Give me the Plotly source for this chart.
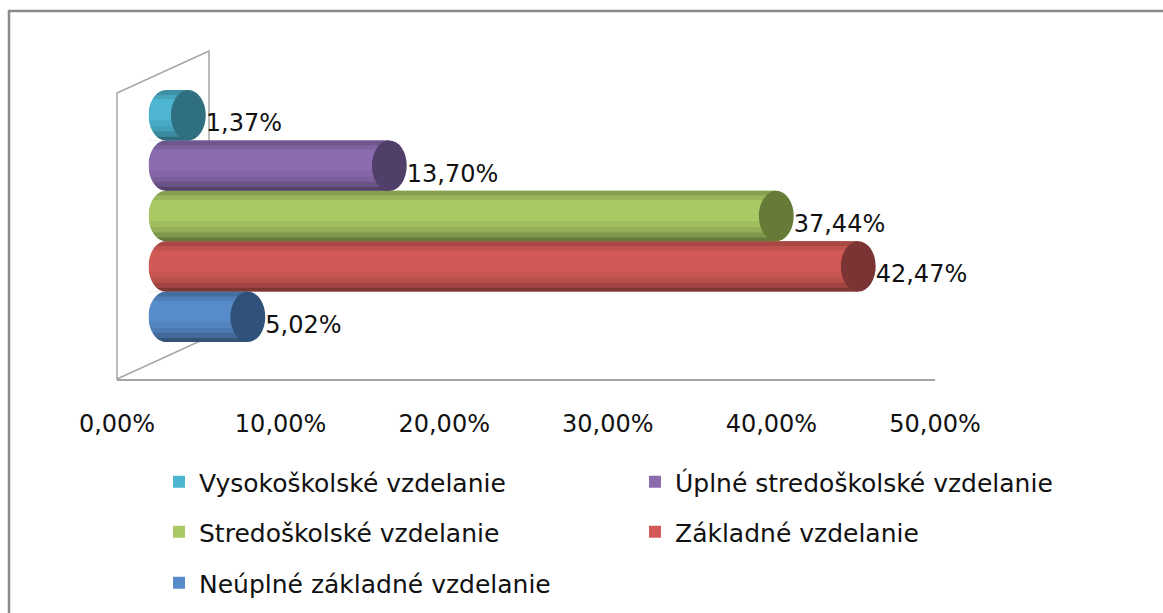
import plotly.graph_objects as go

# ---- data ----
categories = ["Vysokoškolské vzdelanie", "Úplné stredoškolské vzdelanie",
              "Stredoškolské vzdelanie", "Základné vzdelanie",
              "Neúplné základné vzdelanie"]
values = [1.37, 13.70, 37.44, 42.47, 5.02]
row_pos = [4, 3, 2, 1, 0]          # top to bottom
body_colors = ["#4DB5D0", "#8B6CAF", "#A8C964", "#D25A56", "#588BCA"]
cap_colors = ["#306F7F", "#503F69", "#667B37", "#7B3433", "#30527A"]
legend_ids = ["legend", "legend", "legend2", "legend2", "legend3"]
tick_vals = [0, 10, 20, 30, 40, 50]
tick_labels = ["0,00%", "10,00%", "20,00%", "30,00%", "40,00%", "50,00%"]

W, H = 1163, 613
CAP_R = 1.07   # half width of cylinder cap, in axis units
FONT = "DejaVu Sans"
PX_PER_UNIT = 16.3
X0_PX = 166            # pixel of value 0 on the bar axis
XMIN = -2.0
K = 0.5523             # bezier circle constant

# shading bands (lower, upper edge within a bar of height 1, darkening factor)
bands = [(0.40, 0.50, 0.80), (0.32, 0.40, 0.91),
         (-0.22, -0.10, 0.95), (-0.32, -0.22, 0.88),
         (-0.42, -0.32, 0.76), (-0.50, -0.42, 0.60)]


def px_x(p):
    return p / W


def px_y(p):
    return 1 - p / H


def shade(hex_color, f):
    h = hex_color.lstrip("#")
    r, g, b = (int(h[i:i + 2], 16) for i in (0, 2, 4))
    return "#%02x%02x%02x" % (int(r * f), int(g * f), int(b * f))


fig = go.Figure()

# cylinder bodies: start at the back of the rounded left end, end at the value
for cat, v, yp, bc, lg in zip(categories, values, row_pos, body_colors, legend_ids):
    fig.add_trace(go.Bar(
        x=[v + CAP_R], y=[yp], base=-CAP_R, orientation="h", width=1.0,
        marker=dict(color=bc, line=dict(width=0)),
        name=cat, legend=lg, hoverinfo="skip",
    ))

# cylinder shading bands
for lo, hi, f in bands:
    fig.add_trace(go.Bar(
        x=[v + CAP_R for v in values], y=[p + (lo + hi) / 2 for p in row_pos],
        base=-CAP_R, orientation="h", width=hi - lo,
        marker=dict(color=[shade(c, f) for c in body_colors], line=dict(width=0)),
        showlegend=False, hoverinfo="skip",
    ))

# data labels
label_text = [f"{v:.2f}".replace(".", ",") + "%" for v in values]
fig.add_trace(go.Scatter(
    x=[v + CAP_R for v in values], y=[p - 0.2 for p in row_pos],
    mode="text", text=label_text, textposition="middle right",
    textfont=dict(family=FONT, size=24, color="#111111"),
    showlegend=False, hoverinfo="skip", cliponaxis=False,
))

# invisible trace to carry the labelled (front) value axis
fig.add_trace(go.Scatter(x=[tick_vals[0], tick_vals[-1]], y=[None, None],
                         xaxis="x2", yaxis="y", mode="markers",
                         showlegend=False, hoverinfo="skip"))

shapes = []
# outer chart border
shapes.append(dict(type="rect", xref="paper", yref="paper",
                   x0=px_x(9), x1=px_x(W + 20), y0=px_y(H + 20), y1=px_y(11),
                   line=dict(color="#8a8a8a", width=2.5), layer="below"))
# back wall of 3D chart
shapes.append(dict(type="path", xref="paper", yref="paper",
                   path=f"M{px_x(117)},{px_y(379)} L{px_x(117)},{px_y(93)} "
                        f"L{px_x(209)},{px_y(51)} L{px_x(209)},{px_y(337)} Z",
                   line=dict(color="#a6a6a6", width=1.5), layer="below"))
# round off the left ends of the cylinders (white corner masks)
r = CAP_R
for yp in row_pos:
    top, bot = yp + 0.5, yp - 0.5
    shapes.append(dict(
        type="path", xref="x", yref="y", layer="above",
        path=(f"M{-r - 0.05},{top + 0.002} L0,{top + 0.002} "
              f"C{-K * r},{top} {-r},{yp + 0.5 * K} {-r},{yp} "
              f"L{-r - 0.05},{yp} Z"),
        fillcolor="white", line=dict(width=0)))
    shapes.append(dict(
        type="path", xref="x", yref="y", layer="above",
        path=(f"M{-r - 0.05},{bot - 0.002} L0,{bot - 0.002} "
              f"C{-K * r},{bot} {-r},{yp - 0.5 * K} {-r},{yp} "
              f"L{-r - 0.05},{yp} Z"),
        fillcolor="white", line=dict(width=0)))
# cylinder end caps
for v, yp, cc in zip(values, row_pos, cap_colors):
    shapes.append(dict(type="circle", xref="x", yref="y",
                       x0=v - CAP_R, x1=v + CAP_R, y0=yp - 0.5, y1=yp + 0.5,
                       fillcolor=cc, line=dict(width=0), layer="above"))

legend_common = dict(orientation="h", xref="container", yref="container",
                     xanchor="left", yanchor="middle", entrywidth=431,
                     entrywidthmode="pixels",
                     font=dict(family=FONT, size=25, color="#111111"),
                     bgcolor="rgba(0,0,0,0)", itemclick=False,
                     itemdoubleclick=False)

x_dom_left = X0_PX + XMIN * PX_PER_UNIT
x_dom_right = X0_PX + 50 * PX_PER_UNIT

fig.update_layout(
    width=W, height=H,
    margin=dict(l=0, r=0, t=0, b=0, autoexpand=False),
    paper_bgcolor="white", plot_bgcolor="rgba(0,0,0,0)",
    barmode="overlay",
    showlegend=True,
    xaxis=dict(domain=[px_x(x_dom_left), px_x(x_dom_right)], range=[XMIN, 50],
               visible=False, fixedrange=True),
    xaxis2=dict(domain=[px_x(117), px_x(935)], range=[0, 50], anchor="y",
                tickmode="array", tickvals=tick_vals, ticktext=tick_labels,
                showline=True, linecolor="#a6a6a6", linewidth=1.5,
                showgrid=False, zeroline=False, ticks="",
                ticklabelstandoff=22,
                tickfont=dict(family=FONT, size=24, color="#111111"),
                automargin=False, fixedrange=True),
    yaxis=dict(domain=[px_y(379), px_y(50)], range=[-1.234, 5.294],
               visible=False, fixedrange=True),
    legend=dict(x=px_x(159), y=px_y(482), **legend_common),
    legend2=dict(x=px_x(159), y=px_y(532), **legend_common),
    legend3=dict(x=px_x(159), y=px_y(583), **legend_common),
    shapes=shapes,
)

fig.write_html("out.html", config={"displayModeBar": False},
               post_script="document.body.style.margin='0';")
